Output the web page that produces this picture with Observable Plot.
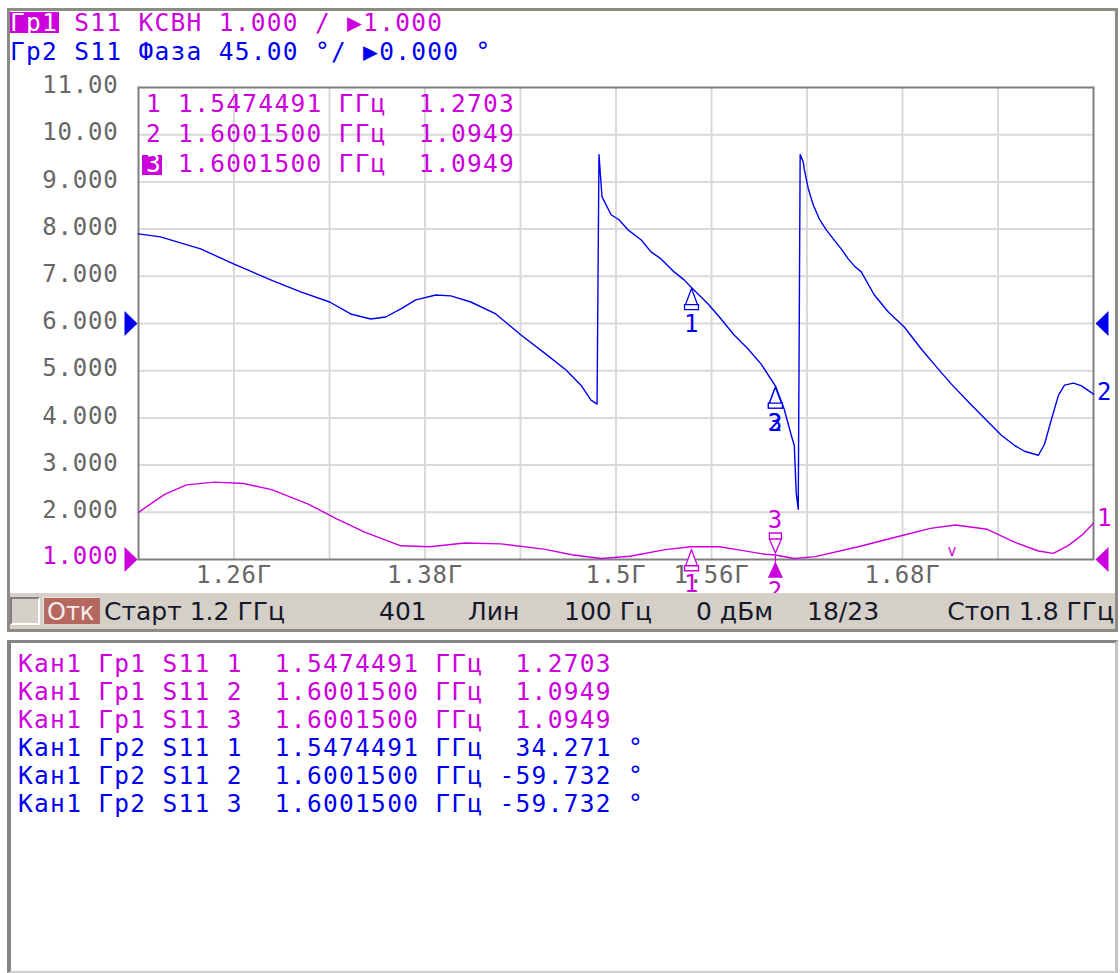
<!DOCTYPE html>
<html><head><meta charset="utf-8">
<script src="https://cdn.jsdelivr.net/npm/d3@7"></script>
<script src="https://cdn.jsdelivr.net/npm/@observablehq/plot@0.6"></script>
<style>
html,body{margin:0;padding:0;background:#fff;}
#root{position:relative;width:1120px;height:973px;overflow:hidden;background:#fff;}
.abs{position:absolute;white-space:pre;line-height:1;}
.mono{font-family:"DejaVu Sans Mono",monospace;letter-spacing:1.3px;}
.sans{font-family:"DejaVu Sans",sans-serif;}
.vna text{letter-spacing:0.8px;}
</style></head><body><div id="root"></div>
<script>
// ---------------- data ----------------
const sweep = [1.2, 1.8];                     // Старт / Стоп, GHz
const channelName = "Кан1";
const traceNames = ["Гр1", "Гр2"];
const traceParams = ["S11", "S11"];
const traceFormats = ["КСВН", "Фаза"];
const traceScaleText = ["1.000 /", "45.00 °/"];
const traceRefText = ["1.000", "0.000 °"];
const traceScale = [1, 45];
const traceRefValue = [1, 0];
const traceRefPos = [1, 6];
const activeTrace = 0;

// Гр2: S11 phase (degrees)
const phaseFreq = [1.2000,1.2138,1.2390,1.2597,1.2830,1.3019,1.3201,1.3333,1.3459,1.3553,1.3648,1.3742,1.3868,1.3962,1.4088,1.4245,1.4403,1.4560,1.4686,1.4780,1.4843,1.4881,1.4893,1.4912,1.4969,1.5019,1.5075,1.5157,1.5220,1.5283,1.5365,1.5428,1.5474,1.5579,1.5660,1.5742,1.5830,1.5912,1.6002,1.6057,1.6101,1.6120,1.6132,1.6145,1.6151,1.6157,1.6176,1.6182,1.6208,1.6239,1.6277,1.6321,1.6365,1.6415,1.6459,1.6497,1.6541,1.6623,1.6711,1.6811,1.6918,1.7025,1.7107,1.7233,1.7340,1.7421,1.7503,1.7566,1.7654,1.7692,1.7736,1.7780,1.7818,1.7874,1.7925,1.8000];
const phaseDeg = [85.5,82.6,71.2,56.8,41.6,30.1,20.5,9.1,4.3,6.2,13.9,22.5,27.2,26.3,20.5,9.1,-11.0,-29.2,-44.4,-58.8,-73.1,-76.9,161.0,120.9,103.7,98.9,89.3,79.8,68.3,61.6,49.2,41.6,34.3,18.6,4.3,-11.0,-24.3,-38.7,-59.7,-81.7,-106.5,-116.1,-161.0,-177.2,-8.1,161.0,154.3,147.6,128.5,113.2,99.8,89.3,80.7,71.2,61.6,54.9,49.2,27.2,11.0,-3.3,-24.3,-43.5,-57.8,-77.8,-94.1,-106.5,-116.1,-121.8,-125.6,-115.1,-91.3,-68.3,-58.8,-56.8,-59.5,-67.4];

// Гр1: S11 VSWR
const vswrFreq = [1.2000,1.2164,1.2302,1.2478,1.2660,1.2836,1.3063,1.3245,1.3421,1.3648,1.3830,1.4050,1.4277,1.4547,1.4723,1.4906,1.5088,1.5308,1.5474,1.5650,1.5761,1.5937,1.6002,1.6119,1.6252,1.6522,1.6811,1.6975,1.7132,1.7333,1.7503,1.7654,1.7748,1.7843,1.7925,1.8000];
const vswrVal = [2.00,2.38,2.58,2.64,2.61,2.48,2.18,1.86,1.58,1.29,1.27,1.35,1.33,1.22,1.10,1.02,1.07,1.21,1.27,1.27,1.21,1.11,1.095,1.02,1.06,1.27,1.52,1.66,1.73,1.64,1.37,1.18,1.13,1.30,1.51,1.77];

// markers
const markerNo = [1, 2, 3];
const markerFreq = [1.5474491, 1.6001500, 1.6001500];
const markerVswr = [1.2703, 1.0949, 1.0949];
const markerPhase = [34.271, -59.732, -59.732];
const activeMarker = 3;

// axes
const xGrid = [1.26,1.32,1.38,1.44,1.50,1.56,1.62,1.68,1.74];
const yGrid = [2,3,4,5,6,7,8,9,10];
const xTicks = [1.26,1.38,1.50,1.56,1.68];
const xTickLabels = ["1.26Г","1.38Г","1.5Г","1.56Г","1.68Г"];
const yTicks = [1,2,3,4,5,6,7,8,9,10,11];
const yTickLabels = ["1.000","2.000","3.000","4.000","5.000","6.000","7.000","8.000","9.000","10.00","11.00"];

// status bar
const statusItems = ["Старт 1.2 ГГц","401","Лин","100 Гц","0 дБм","18/23","Стоп 1.8 ГГц"];
const statusButton = "Отк";

// ---------------- styles / layout ----------------
const blue = "#0000f0", magenta = "#cc00dd", grey = "#676767", gridC = "#d9d9d9";
const statusX = [104, 379, 468, 564, 696, 807];
const statusRight = 1114;

const root = document.getElementById("root");
function box(css) { const d = document.createElement("div"); d.style.position = "absolute"; Object.assign(d.style, css); root.appendChild(d); return d; }
function put(txt, o) {
  const d = document.createElement("div");
  d.className = "abs " + (o.cls || "mono");
  d.textContent = txt;
  d.style.fontSize = o.fs + "px";
  d.style.color = o.color;
  d.style.top = (o.base - 0.846 * o.fs) + "px";
  if (o.right != null) d.style.right = (1120 - o.right) + "px"; else d.style.left = o.x + "px";
  root.appendChild(d);
  return d;
}

// chart window frame
box({left:"7px", top:"8px", width:"1111px", height:"590px", boxSizing:"border-box", border:"3px solid #8c8c84", borderBottom:"none", background:"#fff"});

// ---------------- plot ----------------
const toY = (v, t) => traceRefPos[t] + (v - traceRefValue[t]) / traceScale[t];
const vswrData = vswrFreq.map((f, i) => ({f, y: toY(vswrVal[i], 0)}));
const phaseData = phaseFreq.map((f, i) => ({f, y: toY(phaseDeg[i], 1)}));
const mk = markerNo.map((n, i) => ({n, f: markerFreq[i], yv: toY(markerVswr[i], 0), yp: toY(markerPhase[i], 1)}));
const refs = traceRefPos.map((p, i) => ({y: p, color: i === 0 ? magenta : blue}));
const peak = d3.greatest(vswrData.filter(d => d.f > 1.65 && d.f < 1.76), d => d.y);

const symUp = {draw(c) { c.moveTo(0, 1); c.lineTo(-6, 17); c.lineTo(6, 17); c.closePath(); c.rect(-7, 17, 14, 5); }};
const symUpLow = {draw(c) { c.moveTo(0, 0); c.lineTo(0, 8); c.moveTo(0, 8); c.lineTo(-6.5, 22); c.lineTo(6.5, 22); c.closePath(); }};
const symDown = {draw(c) { c.moveTo(0, -2); c.lineTo(-6, -16); c.lineTo(6, -16); c.closePath(); c.rect(-6, -22, 12, 6); }};
const arrowR = {draw(c) { c.moveTo(-13, -12.5); c.lineTo(0, 0); c.lineTo(-13, 12.5); c.closePath(); }};
const arrowL = {draw(c) { c.moveTo(13, -12.5); c.lineTo(0, 0); c.lineTo(13, 12.5); c.closePath(); }};

const chart = Plot.plot({
  width: 1120, height: 593,
  marginLeft: 138, marginRight: 27, marginTop: 87, marginBottom: 34,
  className: "vna",
  style: {background: "transparent", fontFamily: "DejaVu Sans Mono", fontSize: "24px"},
  x: {domain: sweep},
  y: {domain: [yTicks[0], yTicks[yTicks.length - 1]]},
  marks: [
    Plot.gridX(xGrid, {stroke: gridC, strokeOpacity: 1, strokeWidth: 2}),
    Plot.gridY(yGrid, {stroke: gridC, strokeOpacity: 1, strokeWidth: 2}),
    Plot.frame({stroke: "#7f7f7f", strokeWidth: 2}),
    Plot.axisY(yTicks.slice(1), {tickSize: 0, tickPadding: 20, fontSize: 24, color: grey, dy: -2, label: null,
      tickFormat: d => yTickLabels[yTicks.indexOf(d)]}),
    Plot.axisY(yTicks.slice(0, 1), {tickSize: 0, tickPadding: 20, fontSize: 24, color: magenta, dy: -3, label: null,
      tickFormat: d => yTickLabels[yTicks.indexOf(d)]}),
    Plot.axisX(xTicks, {tickSize: 0, tickPadding: 6, fontSize: 24, color: grey, label: null,
      tickFormat: d => xTickLabels[xTicks.indexOf(d)]}),
    Plot.line(vswrData, {x: "f", y: "y", stroke: magenta, strokeWidth: 1.4}),
    Plot.line(phaseData, {x: "f", y: "y", stroke: blue, strokeWidth: 1.4}),
    // reference level arrows
    Plot.dot(refs, {x: () => sweep[0], y: "y", symbol: arrowR, fill: "color", stroke: null, dx: -1}),
    Plot.dot(refs, {x: () => sweep[1], y: "y", symbol: arrowL, fill: "color", stroke: null, dx: 2}),
    // trace end labels
    Plot.text([phaseData[phaseData.length - 1]], {x: "f", y: "y", text: () => "2", dx: 11, dy: -2, fill: blue, fontSize: 24}),
    Plot.text([vswrData[vswrData.length - 1]], {x: "f", y: "y", text: () => "1", dx: 11, dy: -5, fill: magenta, fontSize: 24}),
    // phase markers
    Plot.dot(mk, {x: "f", y: "yp", symbol: symUp, fill: "white", stroke: blue, strokeWidth: 1.3}),
    Plot.text(mk, {x: "f", y: "yp", text: d => String(d.n), dy: 37, fill: blue, fontSize: 24}),
    // vswr markers
    Plot.dot(mk.filter(d => d.n === 1), {x: "f", y: "yv", symbol: symUp, fill: "white", stroke: magenta, strokeWidth: 1.3, dy: 2}),
    Plot.text(mk.filter(d => d.n === 1), {x: "f", y: "yv", text: d => String(d.n), dy: 38, fill: magenta, fontSize: 24}),
    Plot.dot(mk.filter(d => d.n === 2), {x: "f", y: "yv", symbol: symUpLow, fill: magenta, stroke: magenta, strokeWidth: 1.3}),
    Plot.text(mk.filter(d => d.n === 2), {x: "f", y: "yv", text: d => String(d.n), dy: 36, fill: magenta, fontSize: 24}),
    Plot.dot(mk.filter(d => d.n === 3), {x: "f", y: "yv", symbol: symDown, fill: "white", stroke: magenta, strokeWidth: 1.3}),
    Plot.text(mk.filter(d => d.n === 3), {x: "f", y: "yv", text: d => String(d.n), dy: -35, fill: magenta, fontSize: 24}),
    Plot.text([peak], {x: "f", y: "y", text: () => "v", dy: 26, dx: -3, fill: magenta, fontSize: 15})
  ]
});
chart.style.position = "absolute";
chart.style.left = "0px";
chart.style.top = "0px";
root.appendChild(chart);

// ---------------- header ----------------
const fsM = 24.5;
const hdrBase = [32, 61];
const traceColors = [magenta, blue];
traceNames.forEach((name, t) => {
  const line = `${name} ${traceParams[t]} ${traceFormats[t]} ${traceScaleText[t]} ▶${traceRefText[t]}`;
  if (t === activeTrace) {
    box({left: "10px", top: (hdrBase[t] - 20) + "px", width: "49px", height: "21px", background: traceColors[t]});
    put(name, {x: 10, base: hdrBase[t], fs: fsM, color: "#fff"});
    put(" ".repeat(name.length + 1) + line.slice(name.length + 1), {x: 10, base: hdrBase[t], fs: fsM, color: traceColors[t]});
  } else {
    put(line, {x: 10, base: hdrBase[t], fs: fsM, color: traceColors[t]});
  }
});

// marker table inside the plot
const tblBase = [113, 143, 173];
markerNo.forEach((n, i) => {
  const rest = ` ${markerFreq[i].toFixed(7)} ГГц ${markerVswr[i].toFixed(4).padStart(7)}`;
  if (n === activeMarker) {
    box({left: "142px", top: (tblBase[i] - 18) + "px", width: "20px", height: "20px", background: magenta});
    put(String(n), {x: 146, base: tblBase[i], fs: fsM, color: "#fff"});
    put(" " + rest, {x: 146, base: tblBase[i], fs: fsM, color: magenta});
  } else {
    put(String(n) + rest, {x: 146, base: tblBase[i], fs: fsM, color: magenta});
  }
});

// ---------------- status bar ----------------
box({left: "7px", top: "593px", width: "1111px", height: "39px", boxSizing: "border-box", background: "#d4d0c8",
     borderLeft: "3px solid #8c8c84", borderRight: "3px solid #8c8c84", borderBottom: "3px solid #8c8c84"});
box({left: "10px", top: "597px", width: "30px", height: "28px", boxSizing: "border-box", background: "#d4d0c8",
     borderTop: "2px solid #808080", borderLeft: "2px solid #808080", borderBottom: "2px solid #ffffff", borderRight: "2px solid #ffffff"});
box({left: "43px", top: "597px", width: "57px", height: "27px", boxSizing: "border-box", background: "#b4685f",
     borderTop: "1px solid #e8e4dc", borderLeft: "1px solid #e8e4dc"});
put(statusButton, {cls: "sans", x: 47, base: 620, fs: 24, color: "#f6ecec"});
statusItems.forEach((s, i) => {
  const o = {cls: "sans", base: 620, fs: 25, color: "#16182a"};
  if (i < statusX.length) o.x = statusX[i]; else o.right = statusRight;
  put(s, o);
});

// ---------------- marker list panel ----------------
box({left: "7px", top: "640px", width: "1111px", height: "333px", boxSizing: "border-box", background: "#fff",
     borderTop: "3px solid #858585", borderLeft: "4px solid #858585", borderRight: "3px solid #c4c4c4", borderBottom: "2px solid #d0d0d0"});
const rows = [];
markerNo.forEach((n, i) => rows.push({c: magenta, s: `${channelName} ${traceNames[0]} ${traceParams[0]} ${n}  ${markerFreq[i].toFixed(7)} ГГц ${markerVswr[i].toFixed(4).padStart(7)}`}));
markerNo.forEach((n, i) => rows.push({c: blue, s: `${channelName} ${traceNames[1]} ${traceParams[1]} ${n}  ${markerFreq[i].toFixed(7)} ГГц ${markerPhase[i].toFixed(3).padStart(7)} °`}));
rows.forEach((r, i) => put(r.s, {x: 18, base: 673 + 28 * i, fs: fsM, color: r.c}));
</script></body></html>
